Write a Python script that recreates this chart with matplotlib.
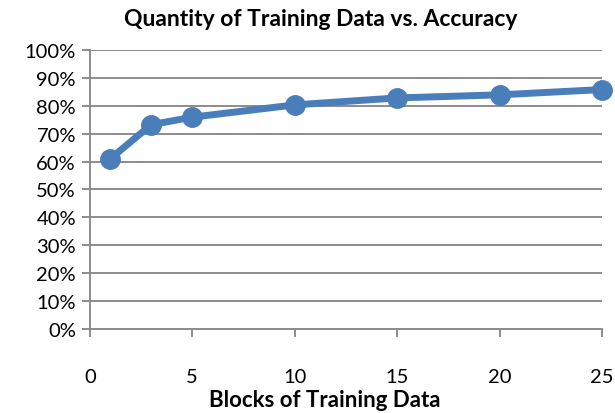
import matplotlib
matplotlib.use("Agg")
import matplotlib.pyplot as plt
from matplotlib.ticker import PercentFormatter

blocks = [1, 3, 5, 10, 15, 20, 25]
accuracy = [61.0, 73.2, 75.9, 80.3, 82.8, 83.9, 85.8]

plt.rcParams["font.family"] = ["Lato", "DejaVu Sans"]

fig = plt.figure(figsize=(6.15, 4.14), dpi=100)
ax = fig.add_axes([0.146, 0.203, 0.833, 0.674])

grey = "#8c8c8c"
ax.plot(blocks, accuracy, color="#4a7ebb", linewidth=5, marker="o",
        markersize=14, zorder=3, clip_on=False)

ax.set_xlim(0, 25)
ax.set_ylim(0, 100)
ax.set_xticks([0, 5, 10, 15, 20, 25])
ax.set_yticks(range(0, 101, 10))
ax.yaxis.set_major_formatter(PercentFormatter(decimals=0))

ax.grid(axis="y", color=grey, linewidth=1.4)
ax.set_axisbelow(True)
for s in ("top", "right"):
    ax.spines[s].set_visible(False)
for s in ("left", "bottom"):
    ax.spines[s].set_color(grey)
    ax.spines[s].set_linewidth(1.4)

ax.tick_params(axis="both", colors=grey, width=1.4, length=6,
               labelcolor="black", labelsize=14.5)
ax.tick_params(axis="x", pad=22)
ax.tick_params(axis="y", pad=4)

fig.text(0.522, 0.952, "Quantity of Training Data vs. Accuracy", fontsize=16.5,
         fontweight="bold", ha="center", va="center")
fig.text(0.528, 0.032, "Blocks of Training Data", fontsize=16,
         fontweight="bold", ha="center", va="center")

fig.savefig("out.png", dpi=100)
